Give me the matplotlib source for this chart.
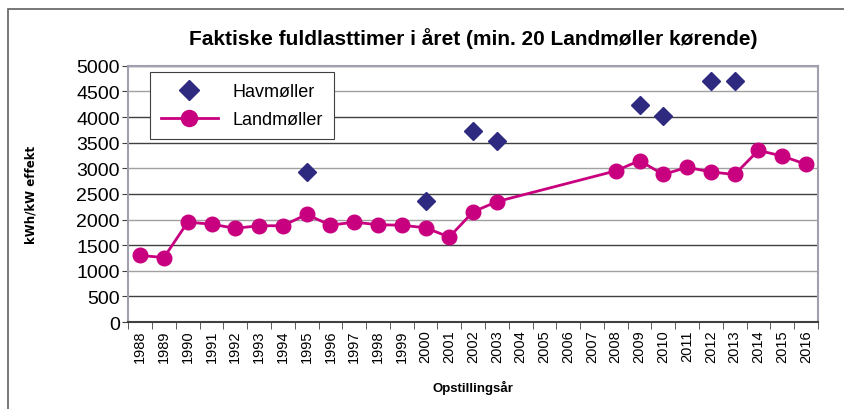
import matplotlib.pyplot as plt
import numpy as np
from matplotlib.patches import Rectangle

# data
years = [str(y) for y in range(1988, 2017)]

land_years = ["1988", "1989", "1990", "1991", "1992", "1993", "1994", "1995", "1996", "1997",
              "1998", "1999", "2000", "2001", "2002", "2003", "2008", "2009", "2010", "2011",
              "2012", "2013", "2014", "2015", "2016"]
land_values = [1300, 1260, 1950, 1910, 1830, 1880, 1880, 2100, 1890, 1950,
               1900, 1890, 1840, 1660, 2150, 2350, 2950, 3150, 2880, 3020,
               2930, 2880, 3350, 3240, 3080]

hav_years = ["1995", "2000", "2002", "2003", "2009", "2010", "2012", "2013"]
hav_values = [2920, 2360, 3720, 3540, 4230, 4020, 4710, 4710]

yticks = np.arange(0, 5001, 500)

navy = "#2E2A80"
magenta = "#C8007F"

fig = plt.figure(figsize=(8.44, 4.10), dpi=100)
fig.patches.append(Rectangle((0.009, -0.05), 1.2, 1.026, transform=fig.transFigure,
                             fill=False, edgecolor="#606060", linewidth=1.2))
ax = fig.add_axes([0.152, 0.212, 0.817, 0.625])

x_land = [years.index(y) for y in land_years]
x_hav = [years.index(y) for y in hav_years]

ax.plot(x_hav, hav_values, linestyle="none", marker="D", markersize=9, color=navy, label="Havmøller",
        zorder=3)
ax.plot(x_land, land_values, color=magenta, linewidth=2, marker="o", markersize=10.5, label="Landmøller",
        zorder=3)

ax.set_xlim(-0.5, len(years) - 0.5)
ax.set_ylim(0, 5000)
ax.set_yticks(yticks)
ax.set_yticklabels([str(v) for v in yticks], fontsize=14, family="Liberation Sans")
ax.set_xticks(range(len(years)))
ax.set_xticklabels(years, rotation=90, fontsize=10.5, family="Liberation Sans")
ax.set_xticks(np.arange(-0.5, len(years), 1.0), minor=True)
ax.tick_params(axis="x", which="major", length=0, pad=5)
ax.tick_params(axis="x", which="minor", length=5, color="#404040", direction="out")
ax.tick_params(axis="y", length=4, color="#404040", pad=2)

for v in yticks[1:]:
    shade = "#a0a0a0" if v in (1000, 2000, 3000, 4500) else "#404040"
    ax.axhline(v, color=shade, linewidth=1.0, zorder=1)

for side in ["top", "right", "left"]:
    ax.spines[side].set_color("#a0a0b0")
    ax.spines[side].set_linewidth(1.5)
ax.spines["bottom"].set_color("#404040")
ax.spines["bottom"].set_linewidth(1.5)

ax.set_title("Faktiske fuldlasttimer i året (min. 20 Landmøller kørende)", fontsize=15, fontweight="bold",
             family="Liberation Sans", pad=16)
ax.set_ylabel("kWh/kW effekt", fontsize=8.5, fontweight="bold", labelpad=28)
ax.set_xlabel("Opstillingsår", fontsize=9.5, fontweight="bold", family="Liberation Sans", labelpad=13)

leg = ax.legend(loc="upper left", bbox_to_anchor=(0.018, 1.01), frameon=True, fancybox=False,
                edgecolor="#404040", framealpha=1.0, handlelength=3.2, borderpad=0.6, labelspacing=0.6,
                markerscale=1.1, prop={"family": "Liberation Sans", "size": 13})
leg.get_frame().set_linewidth(0.8)

plt.savefig("out.png", dpi=100)
plt.close()
